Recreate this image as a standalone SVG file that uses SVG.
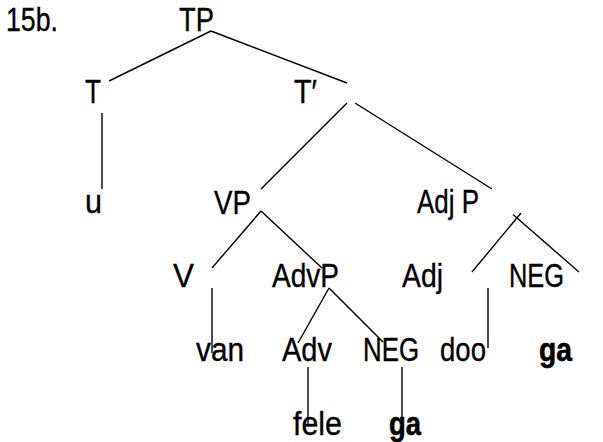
<svg xmlns="http://www.w3.org/2000/svg" width="603" height="442" viewBox="0 0 603 442">
  <style>
    .lbl { font-family: "Liberation Sans", Arial, sans-serif; font-size: 33px; fill: #000; stroke: #000; stroke-width: 0.35px; }
    .b { font-weight: bold; stroke-width: 0.6px; }
    .edge { stroke: #000; stroke-width: 1.4; fill: none; stroke-linecap: butt; }
  </style>
  <rect width="603" height="442" fill="#fff"/>

  <!-- example number -->
  <text id="exnum" class="lbl" x="6" y="31" textLength="52" lengthAdjust="spacingAndGlyphs">15b.</text>

  <!-- tree nodes -->
  <g id="n-TP"><text class="lbl" x="179" y="31" textLength="35" lengthAdjust="spacingAndGlyphs">TP</text></g>
  <g id="n-T"><text class="lbl" x="85" y="103" textLength="16" lengthAdjust="spacingAndGlyphs">T</text></g>
  <g id="n-Tbar"><text class="lbl" x="294" y="103" textLength="23" lengthAdjust="spacingAndGlyphs">T′</text></g>
  <g id="n-u"><text class="lbl" x="85" y="213" textLength="17" lengthAdjust="spacingAndGlyphs">u</text></g>
  <g id="n-VP"><text class="lbl" x="214" y="214" textLength="37" lengthAdjust="spacingAndGlyphs">VP</text></g>
  <g id="n-AdjP"><text class="lbl" x="417" y="213" textLength="62" lengthAdjust="spacingAndGlyphs">Adj P</text></g>
  <g id="n-V"><text class="lbl" x="173" y="287" textLength="21" lengthAdjust="spacingAndGlyphs">V</text></g>
  <g id="n-AdvP"><text class="lbl" x="272" y="287" textLength="67" lengthAdjust="spacingAndGlyphs">AdvP</text></g>
  <g id="n-Adj"><text class="lbl" x="402" y="287" textLength="41" lengthAdjust="spacingAndGlyphs">Adj</text></g>
  <g id="n-NEG1"><text class="lbl" x="509" y="287" textLength="55" lengthAdjust="spacingAndGlyphs">NEG</text></g>
  <g id="n-van"><text class="lbl" x="196" y="361" textLength="48" lengthAdjust="spacingAndGlyphs">van</text></g>
  <g id="n-Adv"><text class="lbl" x="282" y="361" textLength="50" lengthAdjust="spacingAndGlyphs">Adv</text></g>
  <g id="n-NEG2"><text class="lbl" x="363" y="361" textLength="56" lengthAdjust="spacingAndGlyphs">NEG</text></g>
  <g id="n-doo"><text class="lbl" x="440" y="361" textLength="46" lengthAdjust="spacingAndGlyphs">doo</text></g>
  <g id="n-ga1"><text class="lbl b" x="539" y="361" textLength="33" lengthAdjust="spacingAndGlyphs">ga</text></g>
  <g id="n-fele"><text class="lbl" x="293" y="435" textLength="49" lengthAdjust="spacingAndGlyphs">fele</text></g>
  <g id="n-ga2"><text class="lbl b" x="389" y="435" textLength="32" lengthAdjust="spacingAndGlyphs">ga</text></g>

  <!-- branches -->
  <g id="edges" class="edge">
    <line class="edge" x1="211" y1="31" x2="109" y2="81"/>
    <line class="edge" x1="211" y1="31" x2="347" y2="83"/>
    <line class="edge" x1="102" y1="113" x2="102" y2="189"/>
    <line class="edge" x1="347" y1="103" x2="261" y2="189"/>
    <line class="edge" x1="355" y1="103" x2="492" y2="189"/>
    <line class="edge" x1="261" y1="211" x2="212" y2="268"/>
    <line class="edge" x1="261" y1="211" x2="322" y2="268"/>
    <line class="edge" x1="212" y1="288" x2="212" y2="353"/>
    <line class="edge" x1="329" y1="288" x2="298" y2="343"/>
    <line class="edge" x1="329" y1="288" x2="383" y2="342"/>
    <line class="edge" x1="308" y1="367" x2="308" y2="424"/>
    <line class="edge" x1="402" y1="367" x2="402" y2="430"/>
    <line class="edge" x1="472" y1="272" x2="521" y2="213"/>
    <line class="edge" x1="579" y1="272" x2="513" y2="214.5"/>
    <line class="edge" x1="488" y1="288" x2="488" y2="348"/>
  </g>
</svg>
